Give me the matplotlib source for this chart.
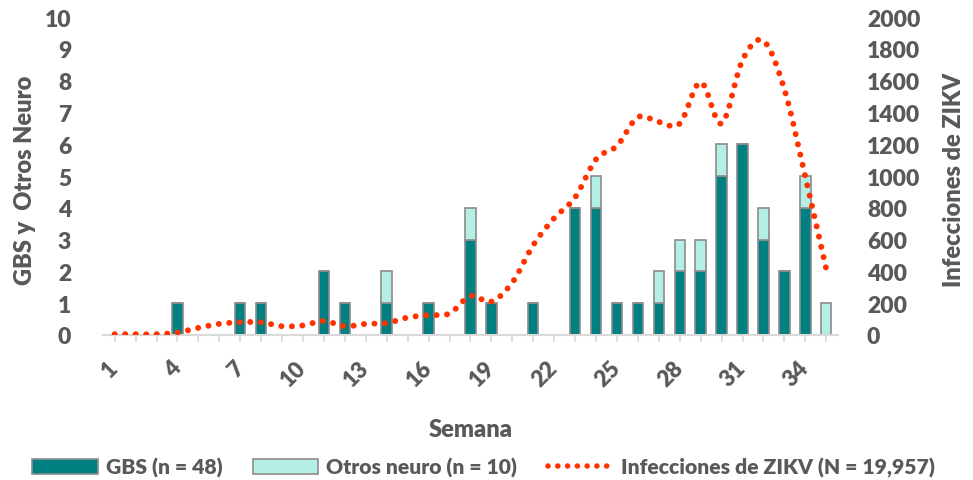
import matplotlib
matplotlib.use("Agg")
import matplotlib.pyplot as plt
import numpy as np
from matplotlib import font_manager
from matplotlib.path import Path
from matplotlib.patches import PathPatch, Patch
from matplotlib.lines import Line2D

# datos por semana
semanas = list(range(1, 36))
gbs = [0, 0, 0, 1, 0, 0, 1, 1, 0, 0, 2, 1, 0, 1, 0, 1, 0, 3, 1, 0,
       1, 0, 4, 4, 1, 1, 1, 2, 2, 5, 6, 3, 2, 4, 0]
otros = [0, 0, 0, 0, 0, 0, 0, 0, 0, 0, 0, 0, 0, 1, 0, 0, 0, 1, 0, 0,
         0, 0, 0, 1, 0, 0, 1, 1, 1, 1, 0, 1, 0, 1, 1]
zikv = [5, 5, 5, 15, 45, 70, 80, 80, 55, 60, 88, 55, 70, 75, 110, 125, 135, 245, 210, 330,
        565, 735, 865, 1105, 1190, 1370, 1340, 1330, 1590, 1330, 1730, 1850, 1545, 995, 415]
etiquetas_x = [str(s) if (s - 1) % 3 == 0 else "" for s in semanas]

gris = "#595959"
teal = "#008080"
claro = "#b3efe4"
rojo = "#ff3300"
borde = "#8c8c8c"

# fuente gruesa por archivo (Lato Heavy / Black)
ruta_bold = font_manager.findfont(font_manager.FontProperties(family="Lato", weight="heavy"))
def fuente(size):
    return font_manager.FontProperties(fname=ruta_bold, size=size)

fig = plt.figure(figsize=(9.73, 4.81), dpi=100)
ax = fig.add_axes([0.106, 0.3015, 0.755, 0.661])
ax2 = ax.twinx()

x = np.arange(len(semanas))
ax.bar(x, gbs, width=0.5, color=teal, edgecolor=borde, linewidth=1.2)
ax.bar(x, otros, width=0.5, bottom=gbs, color=claro, edgecolor=borde, linewidth=1.2)

ax.set_xlim(-0.55, len(semanas) - 0.45)
ax.set_ylim(0, 10)
ax.set_yticks(range(0, 11))
ax.set_yticklabels([str(v) for v in range(0, 11)], fontproperties=fuente(16.5), color=gris)
ax.set_xticks(x)
ax.set_xticklabels(etiquetas_x, rotation=45, ha="right", va="center",
                   rotation_mode="anchor", fontproperties=fuente(16), color=gris)
ax.tick_params(axis="x", length=5, color="#d9d9d9", width=1.2, pad=16)
ax.tick_params(axis="y", length=0, pad=23)
for s in ["top", "right", "left"]:
    ax.spines[s].set_visible(False)
    ax2.spines[s].set_visible(False)
ax.spines["bottom"].set_color("#d9d9d9")
ax.spines["bottom"].set_linewidth(1.5)
ax2.spines["bottom"].set_visible(False)

ax.set_ylabel("GBS y  Otros Neuro", fontproperties=fuente(17), color=gris)
ax.yaxis.set_label_coords(-0.092, 0.49)
ax.set_xlabel("Semana", fontproperties=fuente(17), color=gris, labelpad=20)

# curva suavizada (Catmull-Rom -> Bezier) para la linea de ZIKV
px = x.astype(float)
py = np.array(zikv, dtype=float)
verts = [(px[0], py[0])]
codes = [Path.MOVETO]
n = len(px)
for i in range(n - 1):
    i0 = max(i - 1, 0)
    i3 = min(i + 2, n - 1)
    c1 = (px[i] + (px[i + 1] - px[i0]) / 6, py[i] + (py[i + 1] - py[i0]) / 6)
    c2 = (px[i + 1] - (px[i3] - px[i]) / 6, py[i + 1] - (py[i3] - py[i]) / 6)
    verts += [c1, c2, (px[i + 1], py[i + 1])]
    codes += [Path.CURVE4] * 3
punteado = (0, (0.01, 1.75))
curva = PathPatch(Path(verts, codes), fill=False, edgecolor=rojo, linewidth=4.3,
                  linestyle=punteado, capstyle="round")
ax2.add_patch(curva)
ax2.set_ylim(0, 2000)
ax2.set_yticks(range(0, 2001, 200))
ax2.set_yticklabels([str(v) for v in range(0, 2001, 200)], fontproperties=fuente(16.5), color=gris)
ax2.tick_params(axis="y", length=0, pad=21)
ax2.set_ylabel("Infecciones de ZIKV", fontproperties=fuente(17), color=gris)
ax2.yaxis.set_label_coords(1.143, 0.49)

handles = [Patch(facecolor=teal, edgecolor=borde, linewidth=1.2),
           Patch(facecolor=claro, edgecolor=borde, linewidth=1.2),
           Line2D([], [], color=rojo, linewidth=4, linestyle=punteado, dash_capstyle="round")]
nombres = ["GBS (n = 48)", "Otros neuro (n = 10)", "Infecciones de ZIKV (N = 19,957)"]
leg = fig.legend(handles, nombres, loc="center", bbox_to_anchor=(0.497, 0.027), ncol=3,
                 frameon=False, handlelength=3.1, columnspacing=1.45, handletextpad=0.37,
                 prop=fuente(15.2))
for t in leg.get_texts():
    t.set_color(gris)

fig.savefig("out.png", dpi=100)
